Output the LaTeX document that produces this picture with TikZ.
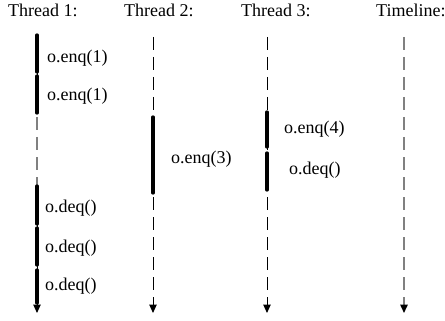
\documentclass[tikz,border=0pt]{standalone}
\usepackage{fontspec}
\setmainfont{Liberation Serif}
\usetikzlibrary{arrows.meta}
\begin{document}
\begin{tikzpicture}[x=1pt,y=-1pt,
  lbl/.style={anchor=base west,inner sep=0pt,font=\fontsize{18}{20}\selectfont},
  life/.style={line width=1pt,dash pattern=on 13pt off 7pt},
  thinline/.style={line width=1pt},
  act/.style={line width=3.3pt,line cap=round},
  tip/.style={-{Triangle[length=8.5pt,width=7.5pt,black]}},
  grayline/.style={line width=1.5pt,draw=black!50,dash pattern=on 13pt off 7pt}]
\useasboundingbox[fill=white] (0,0) rectangle (445,321);
% headers
\node[lbl] (h1) at (8,17) {Thread 1:};
\node[lbl] (h2) at (124,17) {Thread 2:};
\node[lbl] (h3) at (241,17) {Thread 3:};
\node[lbl] (h4) at (376,17) {Timeline:};
% coordinates thread 1
\coordinate (a0) at (37,35);
\coordinate (a1) at (37,72);
\coordinate (a2) at (37,76);
\coordinate (a3) at (37,113);
\coordinate (a3g) at (37,117);
\coordinate (a4) at (37,186);
\coordinate (a5) at (37,224);
\coordinate (a6) at (37,228);
\coordinate (a7) at (37,265);
\coordinate (a8) at (37,270);
\coordinate (a9) at (37,303);
\coordinate (aE) at (37,313);
% thread 2
\coordinate (b0) at (153,37);
\coordinate (b1) at (153,117);
\coordinate (b2) at (153,193);
\coordinate (bE) at (153,313);
% thread 3
\coordinate (c0) at (267,37);
\coordinate (c1) at (267,112);
\coordinate (c2) at (267,147);
\coordinate (c3) at (267,153);
\coordinate (c4) at (267,190);
\coordinate (cE) at (267,313);
% timeline
\coordinate (d0) at (404,37);
\coordinate (dE) at (404,313);
% thin lines
\draw[thinline] (a0) -- (a3);
\draw[grayline] (a3g) -- (a4);
\draw[thinline,tip] (a4) -- (aE);
\draw[life,tip] (b0) -- (bE);
\draw[life,tip] (c0) -- (cE);
\draw[grayline,tip] (d0) -- (dE);
% thick activity bars
\draw[act] (a0) -- (a1);
\draw[act] (a2) -- (a3);
\draw[act] (a4) -- (a5);
\draw[act] (a6) -- (a7);
\draw[act] (a8) -- (a9);
\draw[act] (b1) -- (b2);
\draw[act] (c1) -- (c2);
\draw[act] (c3) -- (c4);
% labels
\node[lbl] (e1) at (47,63) {o.enq(1)};
\node[lbl] (e2) at (47,100) {o.enq(1)};
\node[lbl] (e3) at (171,163) {o.enq(3)};
\node[lbl] (e4) at (284,133) {o.enq(4)};
\node[lbl] (q4) at (289,175) {o.deq()};
\node[lbl] (q1) at (45,212) {o.deq()};
\node[lbl] (q2) at (45,252) {o.deq()};
\node[lbl] (q3) at (45,290) {o.deq()};
\end{tikzpicture}
\end{document}
